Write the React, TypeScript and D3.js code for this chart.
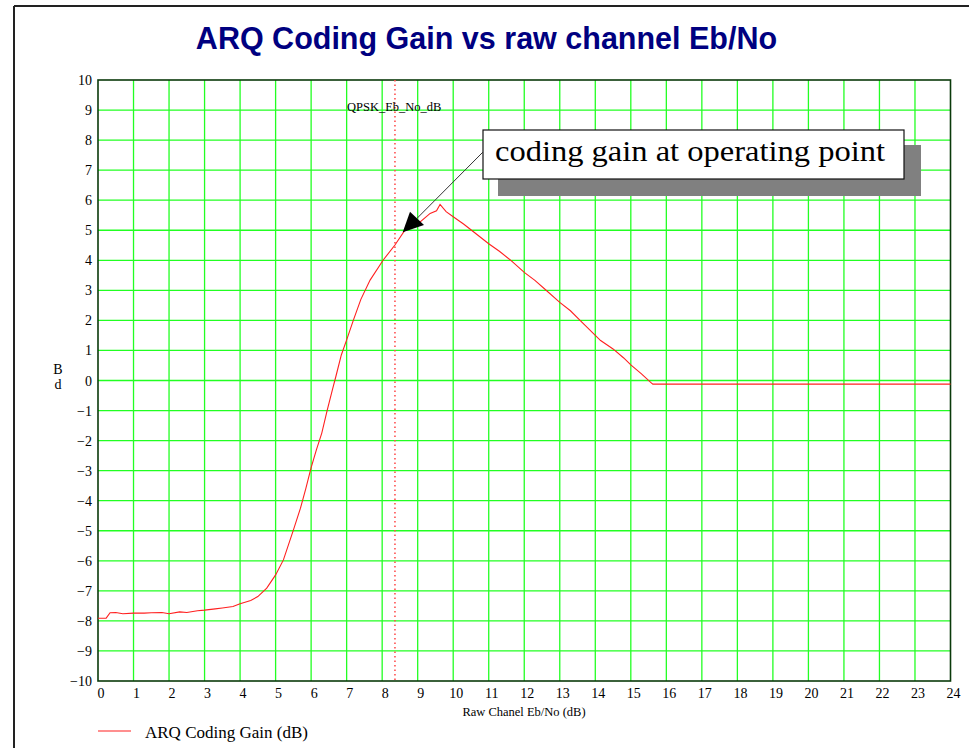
import React from "react";
import * as d3 from "d3";

const xTicks = d3.range(0, 25, 1);
const yTicks = d3.range(-10, 11, 1);

const gainX = [
  0, 0.23, 0.34, 0.5, 0.7, 1.0, 1.3, 1.5, 1.8, 2.0, 2.3, 2.5, 2.8, 3.0, 3.3, 3.5, 3.8, 4.0, 4.3, 4.5,
  4.75, 4.84, 5.0, 5.22, 5.5, 5.7, 5.85, 6.0, 6.15, 6.3, 6.45, 6.6, 6.7, 6.85, 7.0, 7.19, 7.4,
  7.66, 8.03, 8.36, 8.64, 8.97, 9.07, 9.35, 9.53, 9.63, 9.8, 10.0, 10.3, 10.57, 11.0, 11.3, 11.6,
  12.0, 12.3, 12.6, 13.0, 13.3, 13.6, 14.0, 14.15, 14.5, 14.8, 15.0, 15.3, 15.56, 15.62, 24,
];
const gainY = [
  -7.91, -7.91, -7.73, -7.72, -7.76, -7.74, -7.74, -7.73, -7.72, -7.76, -7.7, -7.72, -7.66, -7.64, -7.6,
  -7.57, -7.52, -7.43, -7.32, -7.19, -6.91, -6.75, -6.47, -5.97, -4.98, -4.25, -3.6, -2.9, -2.3,
  -1.75, -1.0, -0.3, 0.15, 0.85, 1.35, 2.01, 2.7, 3.34, 4.01, 4.51, 5.0, 5.3, 5.28, 5.56, 5.65,
  5.86, 5.62, 5.45, 5.2, 4.95, 4.55, 4.3, 4.02, 3.6, 3.33, 3.02, 2.6, 2.32, 1.97, 1.5, 1.33, 1.05,
  0.75, 0.52, 0.22, -0.06, -0.12, -0.12,
];

const markerX = 8.36;
const markerLabel = "QPSK_Eb_No_dB";
const titleText = "ARQ Coding Gain vs raw channel Eb/No";
const xLabel = "Raw Chanel Eb/No (dB)";
const legendLabel = "ARQ Coding Gain (dB)";
const annotationText = "coding gain at operating point";

const W = 972;
const H = 748;
const plot = { left: 98, right: 950.5, top: 80, bottom: 681 };

export default function App() {
  const x = d3.scaleLinear().domain([0, 24]).range([plot.left, plot.right]);
  const y = d3.scaleLinear().domain([-10, 10]).range([plot.bottom, plot.top]);
  const pts: [number, number][] = gainX.map((v, i) => [v, gainY[i]]);
  const line = d3
    .line<[number, number]>()
    .x((d) => x(d[0]))
    .y((d) => y(d[1]));

  const serif = "'Liberation Serif', 'Times New Roman', serif";
  const sans = "'Liberation Sans', Arial, sans-serif";

  // annotation geometry
  const box = { x: 483, y: 130, w: 421, h: 49 };
  const shadow = { x: 498, y: 145, w: 423, h: 51 };
  const tip = [402.7, 232.3];
  const headA = [410, 211.7];
  const headB = [424, 225];
  const headBase = [(headA[0] + headB[0]) / 2, (headA[1] + headB[1]) / 2];

  const fmt = (v: number) => (v < 0 ? "\u2212" + Math.abs(v) : String(v));

  return (
    <svg
      width={W}
      height={H}
      style={{ position: "absolute", left: 0, top: 0, background: "#fff" }}
    >
      <rect x={0} y={0} width={W} height={H} fill="#fff" />
      {/* outer border */}
      <line x1={14} y1={6} x2={969} y2={6} stroke="#222" strokeWidth={2} />
      <line x1={14} y1={6} x2={14} y2={H} stroke="#222" strokeWidth={2} />

      <text
        x={486.5}
        y={49}
        textAnchor="middle"
        fontFamily={sans}
        fontWeight="bold"
        fontSize={30.5}
        fill="#000080"
      >
        {titleText}
      </text>

      {/* grid */}
      {xTicks.slice(1, -1).map((t) => (
        <line key={"gx" + t} x1={x(t)} x2={x(t)} y1={plot.top} y2={plot.bottom} stroke="#22ff22" strokeWidth={1.3} />
      ))}
      {yTicks.slice(1, -1).map((t) => (
        <line key={"gy" + t} x1={plot.left} x2={plot.right} y1={y(t)} y2={y(t)} stroke="#22ff22" strokeWidth={1.3} />
      ))}
      <rect
        x={plot.left}
        y={plot.top}
        width={plot.right - plot.left}
        height={plot.bottom - plot.top}
        fill="none"
        stroke="#0a3a0a"
        strokeWidth={1.6}
      />

      {/* tick labels */}
      {xTicks.map((t) => (
        <text key={"xt" + t} x={x(t) + 3} y={698} textAnchor="middle" fontFamily={serif} fontSize={14} fill="#000">
          {t}
        </text>
      ))}
      {yTicks.map((t) => (
        <text key={"yt" + t} x={92} y={y(t) + 5} textAnchor="end" fontFamily={serif} fontSize={14} fill="#000">
          {fmt(t)}
        </text>
      ))}

      <text x={524} y={716} textAnchor="middle" fontFamily={serif} fontSize={12.5} fill="#000">
        {xLabel}
      </text>
      <text x={58} y={374} textAnchor="middle" fontFamily={serif} fontSize={14} fill="#000">B</text>
      <text x={58} y={389} textAnchor="middle" fontFamily={serif} fontSize={14} fill="#000">d</text>

      {/* marker */}
      <line
        x1={x(markerX)}
        x2={x(markerX)}
        y1={plot.top}
        y2={plot.bottom}
        stroke="#ff5050"
        strokeWidth={1.6}
        strokeDasharray="1.5,3"
      />
      <text x={347} y={111} fontFamily={serif} fontSize={12.5} fill="#000">
        {markerLabel}
      </text>

      {/* curve */}
      <path d={line(pts) || ""} fill="none" stroke="#ff2020" strokeWidth={1.1} />

      {/* annotation */}
      <rect x={shadow.x} y={shadow.y} width={shadow.w} height={shadow.h} fill="#808080" />
      <rect x={box.x} y={box.y} width={box.w} height={box.h} fill="#fff" stroke="#111" strokeWidth={1.2} />
      <text
        x={495}
        y={161}
        fontFamily={serif}
        fontSize={30}
        textLength={390}
        lengthAdjust="spacingAndGlyphs"
        fill="#000"
      >
        {annotationText}
      </text>
      <line x1={box.x} y1={152} x2={headBase[0]} y2={headBase[1]} stroke="#333" strokeWidth={1} />
      <polygon points={`${tip[0]},${tip[1]} ${headA[0]},${headA[1]} ${headB[0]},${headB[1]}`} fill="#000" />

      {/* legend */}
      <line x1={98} x2={131} y1={731} y2={731} stroke="#ff2020" strokeWidth={1.1} />
      <text x={145} y={738} fontFamily={serif} fontSize={17} fill="#000">
        {legendLabel}
      </text>
    </svg>
  );
}
